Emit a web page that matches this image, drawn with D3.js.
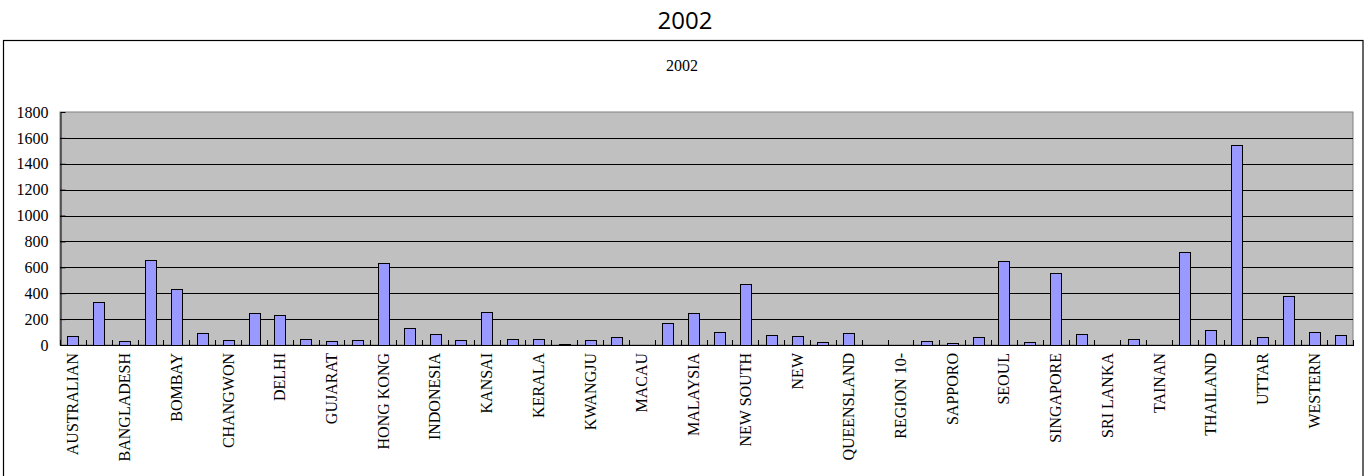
<!DOCTYPE html>
<html><head><meta charset="utf-8">
<script src="https://cdn.jsdelivr.net/npm/d3@7/dist/d3.min.js"></script>
<style>body{margin:0;background:#fff}svg{display:block}</style>
</head><body>
<svg id="c" width="1370" height="476"></svg>
<script>
// Categories: every other label is shown on the axis (unshown ones are unknown -> null)
const tickLabels = ["AUSTRALIAN","BANGLADESH","BOMBAY","CHANGWON","DELHI","GUJARAT","HONG KONG","INDONESIA","KANSAI","KERALA","KWANGJU","MACAU","MALAYSIA","NEW SOUTH","NEW","QUEENSLAND","REGION 10-","SAPPORO","SEOUL","SINGAPORE","SRI LANKA","TAINAN","THAILAND","UTTAR","WESTERN"];
const values = [70,330,30,660,430,95,35,250,235,45,30,35,635,130,85,36,257,44,44,10,36,62,0,172,249,100,470,80,69,21,95,0,0,31,15,62,650,23,558,87,0,44,0,715,118,1548,62,378,103,80];
const categories = values.map((v,i)=> i%2===0 ? tickLabels[i/2] : null);
const yTicks = [0,200,400,600,800,1000,1200,1400,1600,1800];
const title = "2002";
const subtitle = "2002";

const serif = "'Liberation Serif','Times New Roman',serif";
const svg = d3.select("#c");
const L=60, R=1353, T=112, B=345;
const x = d3.scaleBand().domain(d3.range(values.length)).range([L,R]).paddingInner(0).paddingOuter(0);
const y = d3.scaleLinear().domain([0,1800]).range([B,T]);

// outer frame
svg.append("rect").attr("x",3.5).attr("y",40.5).attr("width",1359.5).attr("height",460)
  .attr("fill","#fff").attr("stroke","#000").attr("stroke-width",1.2);

svg.append("text").attr("x",685).attr("y",29).attr("text-anchor","middle")
  .attr("font-family","'Open Sans','DejaVu Sans',sans-serif").attr("font-size",24).text(title);
svg.append("text").attr("x",682).attr("y",70.5).attr("text-anchor","middle")
  .attr("font-family",serif).attr("font-size",16).text(subtitle);

// plot area
svg.append("rect").attr("x",L).attr("y",T).attr("width",R-L).attr("height",B-T)
  .attr("fill","#c0c0c0").attr("stroke","#808080").attr("stroke-width",1);

// gridlines
svg.append("g").selectAll("line").data(yTicks.filter(d=>d>0 && d<1800)).join("line")
  .attr("x1",L).attr("x2",R).attr("y1",d=>Math.round(y(d))+0.5).attr("y2",d=>Math.round(y(d))+0.5)
  .attr("stroke","#000").attr("stroke-width",1);

// bars
const bw = x.bandwidth()*0.42;
svg.append("g").selectAll("rect").data(values).join("rect")
  .attr("x",(d,i)=>Math.round(x(i)+(x.bandwidth()-bw)/2)+0.5)
  .attr("width",Math.round(bw))
  .attr("y",d=>Math.round(y(d))+0.5)
  .attr("height",d=>Math.max(0,Math.round(B-y(d))))
  .attr("fill","#9999ff").attr("stroke","#000").attr("stroke-width",1)
  .attr("display",d=>d>0?null:"none");

// y axis
const ya = svg.append("g").attr("transform",`translate(${L+0.5},0)`)
  .call(d3.axisLeft(y).tickValues(yTicks).tickFormat(d3.format("d")).tickSizeInner(-5).tickSizeOuter(0).tickPadding(12));
ya.select(".domain").attr("stroke","#000");
ya.selectAll("text").attr("font-family",serif).attr("font-size",16).attr("fill","#000");

// x axis line and category ticks
svg.append("line").attr("x1",L).attr("x2",R+1).attr("y1",B+0.5).attr("y2",B+0.5).attr("stroke","#000").attr("stroke-width",1.2);
const bounds = d3.range(values.length+1).map(i=> i<values.length ? x(i) : R);
svg.append("g").selectAll("line").data(bounds).join("line")
  .attr("x1",d=>Math.round(d)+0.5).attr("x2",d=>Math.round(d)+0.5)
  .attr("y1",B).attr("y2",B-5).attr("stroke","#000").attr("stroke-width",1);

// x labels
svg.append("g").selectAll("text").data(categories.map((c,i)=>({c,i})).filter(d=>d.c)).join("text")
  .attr("transform",d=>`translate(${x(d.i)+x.bandwidth()/2+5.5},${B+8}) rotate(-90)`)
  .attr("text-anchor","end")
  .attr("font-family",serif).attr("font-size",16)
  .text(d=>d.c);
</script>
</body></html>
